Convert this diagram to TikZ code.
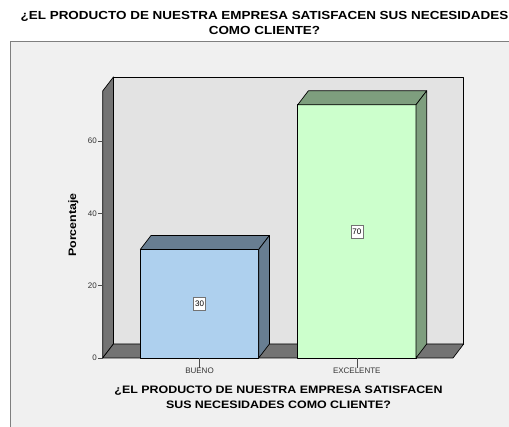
\documentclass[tikz,border=0pt]{standalone}
\usepackage{fontspec}
\setmainfont{Liberation Sans}
\newfontfamily\widesans[FakeStretch=1.15]{Liberation Sans}
\usetikzlibrary{positioning}
\pgfdeclarelayer{nodelayer}
\pgfdeclarelayer{edgelayer}
\pgfsetlayers{edgelayer,nodelayer,main}
\definecolor{framebg}{HTML}{F0F0F0}
\definecolor{framegray}{HTML}{7F7F7F}
\definecolor{backwall}{HTML}{E3E3E3}
\definecolor{sidewall}{HTML}{737373}
\definecolor{buenofront}{HTML}{AED0EE}
\definecolor{buenoside}{HTML}{687E92}
\definecolor{excfront}{HTML}{CCFFCC}
\definecolor{excside}{HTML}{7E9E7E}
\tikzstyle{none}=[inner sep=-1pt]
\tikzset{wall/.style={fill=sidewall, draw=black, line width=0.7pt, line join=round}}
\tikzset{barface/.style={draw=black, line width=0.7pt, line join=round}}
\tikzset{titletext/.style={font=\widesans\bfseries\fontsize{11.7}{13}\selectfont, inner sep=0pt}}
\tikzset{axistext/.style={font=\widesans\bfseries\fontsize{10.8}{12}\selectfont, inner sep=0pt}}
\tikzset{ticktext/.style={font=\fontsize{8}{9}\selectfont, inner sep=0pt, text=black!80}}
\tikzset{valbox/.style={draw=black!55, fill=white, font=\fontsize{8}{9}\selectfont,
inner sep=1.5pt, minimum height=13pt}}

\begin{document}
\begin{tikzpicture}[x=1pt, y=-1pt]
    \useasboundingbox (0,0) rectangle (509,427);
    \clip (0,0) rectangle (509,427);
    			\begin{pgfonlayer}{nodelayer}
    				\node [style=none] (0) at (102.7, 358) {};
    				\node [style=none] (1) at (102.7, 91) {};
    				\node [style=none] (2) at (113.4, 77) {};
    				\node [style=none] (3) at (463.7, 77) {};
    				\node [style=none] (4) at (463.7, 344) {};
    				\node [style=none] (5) at (113.4, 344) {};
    				\node [style=none] (6) at (453, 358) {};
    				\node [titletext] (7) at (264.5, 16.3) {¿EL PRODUCTO DE NUESTRA EMPRESA SATISFACEN SUS NECESIDADES};
    				\node [titletext] (8) at (264.5, 30.5) {COMO CLIENTE?};
    				\node [axistext] (9) at (278.5, 391) {¿EL PRODUCTO DE NUESTRA EMPRESA SATISFACEN};
    				\node [axistext] (10) at (278.5, 404.3) {SUS NECESIDADES COMO CLIENTE?};
    				\node [axistext, rotate=90] (11) at (73.3, 225) {Porcentaje};
    				\node [ticktext, anchor=east] (12) at (97, 358) {0};
    				\node [ticktext, anchor=east] (13) at (97, 285.7) {20};
    				\node [ticktext, anchor=east] (14) at (97, 213.3) {40};
    				\node [ticktext, anchor=east] (15) at (97, 141) {60};
    				\node [ticktext] (16) at (199.5, 370.7) {BUENO};
    				\node [ticktext] (17) at (356.8, 370.7) {EXCELENTE};
    				\node [valbox] (18) at (199.5, 303.8) {30};
    				\node [valbox] (19) at (356.8, 231.4) {70};
    			\end{pgfonlayer}
    			\begin{pgfonlayer}{edgelayer}
    				\draw [fill=framebg, draw=framegray, line width=1.2pt] (10.5, 41.5) rectangle (530, 440);
    				\draw [barface, fill=backwall] (2.center) to (3.center) to (4.center) to (5.center) -- cycle;
    				\draw [wall] (0.center) to (1.center) to (2.center) to (5.center) -- cycle;
    				\draw [wall] (0.center) to (5.center) to (4.center) to (6.center) -- cycle;
    				% BUENO
    				\draw [barface, fill=buenofront] (140.3, 249.5) rectangle (258.7, 358);
    				\draw [barface, fill=buenoside] (140.3, 249.5) -- (151, 235.5) -- (269.4, 235.5) -- (258.7, 249.5) -- cycle;
    				\draw [barface, fill=buenoside] (258.7, 249.5) -- (269.4, 235.5) -- (269.4, 344) -- (258.7, 358) -- cycle;
    				% EXCELENTE
    				\draw [barface, fill=excfront] (297.7, 104.8) rectangle (416, 358);
    				\draw [barface, fill=excside] (297.7, 104.8) -- (308.4, 90.8) -- (426.7, 90.8) -- (416, 104.8) -- cycle;
    				\draw [barface, fill=excside] (416, 104.8) -- (426.7, 90.8) -- (426.7, 344) -- (416, 358) -- cycle;
    				% ticks
    				\draw [black!70, line width=0.6pt] (12.east) ++(1,0) -- (0.center);
    				\draw [black!70, line width=0.6pt] (13.east) ++(1,0) -- ++(4.7,0);
    				\draw [black!70, line width=0.6pt] (14.east) ++(1,0) -- ++(4.7,0);
    				\draw [black!70, line width=0.6pt] (15.east) ++(1,0) -- ++(4.7,0);
    				\draw [black!70, line width=0.6pt] (199.5, 358) -- (16.north);
    				\draw [black!70, line width=0.6pt] (356.8, 358) -- (17.north);
    			\end{pgfonlayer}
    		\end{tikzpicture}
\end{document}
